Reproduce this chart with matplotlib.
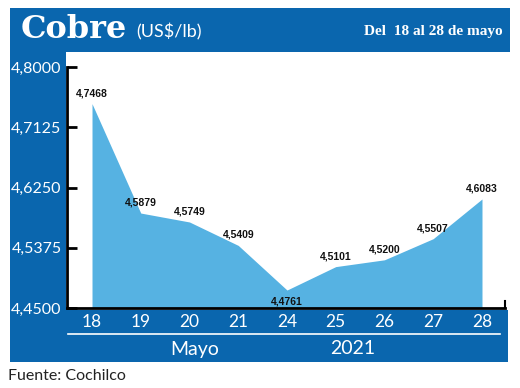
import matplotlib
matplotlib.use("Agg")
import matplotlib.pyplot as plt
from matplotlib.patches import Rectangle

days = ["18", "19", "20", "21", "24", "25", "26", "27", "28"]
prices = [4.7468, 4.5879, 4.5749, 4.5409, 4.4761, 4.5101, 4.5200, 4.5507, 4.6083]
yticks = [4.45, 4.5375, 4.625, 4.7125, 4.80]
ytick_labels = ["4,4500", "4,5375", "4,6250", "4,7125", "4,8000"]
value_labels = ["4,7468", "4,5879", "4,5749", "4,5409", "4,4761", "4,5101", "4,5200", "4,5507", "4,6083"]

W, H = 520, 388
DARK = "#0a66ae"
FILL = "#56b2e2"
SANS = "Lato"

fig = plt.figure(figsize=(W / 100, H / 100), dpi=100)
fig.patch.set_facecolor("white")

def frect(x0, y0, x1, y1, color):
    fig.patches.append(Rectangle((x0 / W, 1 - y1 / H), (x1 - x0) / W, (y1 - y0) / H,
                                 transform=fig.transFigure, facecolor=color,
                                 edgecolor="none", zorder=-10))

# blue frame
frect(10, 8, 510, 52, DARK)
frect(10, 52, 66, 362, DARK)
frect(10, 310, 508, 362, DARK)

# axes
ax_l, ax_r, ax_t, ax_b = 67, 505, 67, 308
ax = fig.add_axes([ax_l / W, 1 - ax_b / H, (ax_r - ax_l) / W, (ax_b - ax_t) / H])
ax.set_zorder(5)
ax.patch.set_alpha(0)
x = list(range(len(days)))
ax.fill_between(x, prices, 4.45, color=FILL, linewidth=0, zorder=1)
ax.set_ylim(4.45, 4.80)
ax.set_xlim(-0.513, 8.472)
ax.set_yticks(yticks)
ax.set_yticklabels(ytick_labels)
ax.tick_params(axis="y", direction="in", length=7, width=2, color="black",
               labelcolor="white", labelsize=11.5, pad=4)
ax.set_xticks(x)
ax.set_xticklabels(days)
ax.tick_params(axis="x", length=0, labelcolor="white", labelsize=12.5, pad=4)
for lab in ax.get_yticklabels() + ax.get_xticklabels():
    lab.set_family(SANS)
for s in ["top", "right"]:
    ax.spines[s].set_visible(False)
ax.spines["left"].set_linewidth(2)
ax.spines["bottom"].set_linewidth(2)
ax.spines["left"].set_zorder(3)
ax.spines["bottom"].set_zorder(3)
ax.plot([1, 1], [0, 0.03], transform=ax.transAxes, color="black", lw=1.5, clip_on=False)

for i, (v, lab) in enumerate(zip(prices, value_labels)):
    if i == 4:
        ax.annotate(lab, (i, v), xytext=(0, -5), textcoords="offset points",
                    ha="center", va="top", fontsize=7.5, fontweight="bold",
                    family="Liberation Sans", color="#111111", zorder=4)
    else:
        ax.annotate(lab, (i, v), xytext=(0, 4), textcoords="offset points",
                    ha="center", va="bottom", fontsize=7.5, fontweight="bold",
                    family="Liberation Sans", color="#111111", zorder=4)

# white separator line and bottom labels
fig.add_artist(plt.Line2D([68 / W, 500 / W], [1 - 334 / H, 1 - 334 / H],
                          transform=fig.transFigure, color="white", lw=1.2))
fig.text(195 / W, 1 - 349 / H, "Mayo", color="white", fontsize=14,
         family=SANS, ha="center", va="center")
fig.text(353 / W, 1 - 349 / H, "2021", color="white", fontsize=14,
         family=SANS, ha="center", va="center")

# title
fig.text(21 / W, 1 - 30 / H, "Cobre", color="white", fontsize=23, fontweight="bold",
         family="DejaVu Serif", ha="left", va="center")
fig.text(136 / W, 1 - 32 / H, "(US$/lb)", color="white", fontsize=13,
         family=SANS, ha="left", va="center")
fig.text(503 / W, 1 - 32 / H, "Del  18 al 28 de mayo", color="white", fontsize=11,
         fontweight="bold", family="Liberation Serif", ha="right", va="center")

fig.text(8 / W, 1 - 376 / H, "Fuente: Cochilco", color="#222222", fontsize=11.5,
         family=SANS, ha="left", va="center")

fig.savefig("out.png", dpi=100, facecolor="white")
